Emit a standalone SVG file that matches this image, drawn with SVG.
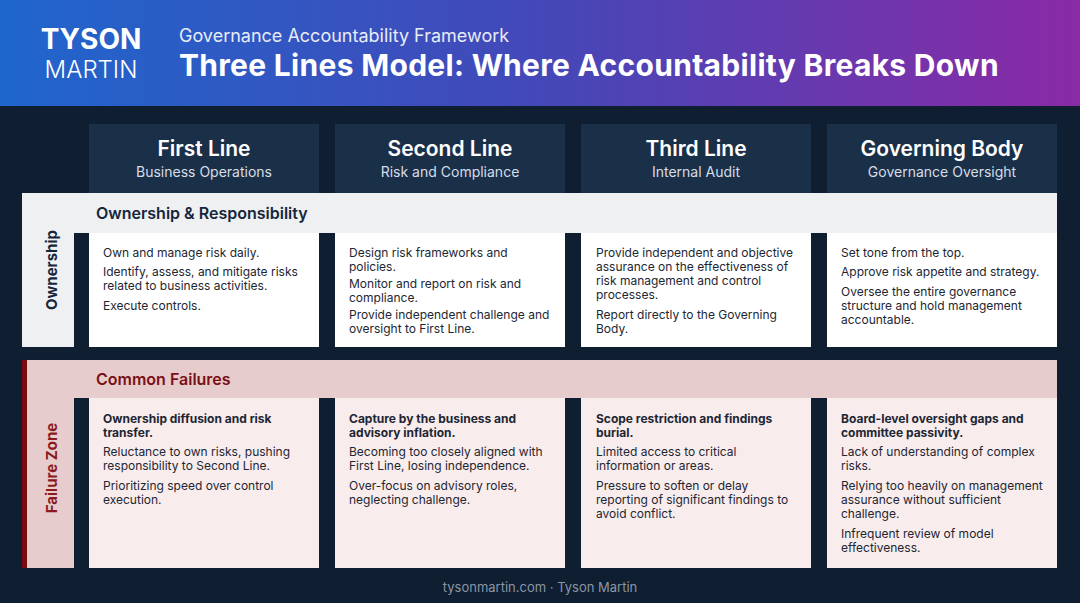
<svg xmlns="http://www.w3.org/2000/svg" width="1080" height="603" viewBox="0 0 1080 603">
<defs>
<linearGradient id="hg" x1="0" y1="0" x2="1" y2="0"><stop offset="0" stop-color="#1f66cc"/><stop offset="0.5" stop-color="#4448b8"/><stop offset="1" stop-color="#8a2aa6"/></linearGradient>
<style>
text{font-family:Inter,"Noto Sans",sans-serif}
.ch{fill:#1a3049}
.t1{font-size:21px;font-weight:600;fill:#fff;text-anchor:middle}
.t2{font-size:14px;fill:#d6dde6;text-anchor:middle}
.ct{font-size:12px;fill:#1d2633}
.cb{font-weight:700}
.oc{fill:#ffffff}
.fc{fill:#f9ecec}
</style>
</defs>
<rect width="1080" height="603" fill="#0f1e31"/>
<rect width="1080" height="106" fill="url(#hg)"/>
<g id="logo"><text x="91" y="49" font-size="28" font-weight="700" fill="#fff" text-anchor="middle">TYSON</text><text x="91" y="78" font-size="24" font-weight="300" fill="#fff" text-anchor="middle">MARTIN</text></g>
<text x="179" y="42" font-size="18" fill="#e8ecf6">Governance Accountability Framework</text>
<text x="179" y="76" font-size="30" font-weight="700" fill="#fff" letter-spacing="0.3">Three Lines Model: Where Accountability Breaks Down</text>
<g id="headers">
<rect class="ch" x="89" y="124" width="230" height="70"/><text class="t1" x="204" y="156">First Line</text><text class="t2" x="204" y="177">Business Operations</text>
<rect class="ch" x="335" y="124" width="230" height="70"/><text class="t1" x="450" y="156">Second Line</text><text class="t2" x="450" y="177">Risk and Compliance</text>
<rect class="ch" x="581" y="124" width="230" height="70"/><text class="t1" x="696" y="156">Third Line</text><text class="t2" x="696" y="177">Internal Audit</text>
<rect class="ch" x="827" y="124" width="230" height="70"/><text class="t1" x="942" y="156">Governing Body</text><text class="t2" x="942" y="177">Governance Oversight</text>
</g>
<g id="ownership">
<rect x="22" y="193" width="1035" height="40" fill="#eef0f2"/>
<rect x="22" y="193" width="52" height="154" fill="#eef0f2"/>
<text x="96" y="219" font-size="16" font-weight="600" fill="#16263a">Ownership &amp; Responsibility</text>
<text transform="translate(57,270) rotate(-90)" font-size="15" font-weight="700" fill="#16263a" text-anchor="middle">Ownership</text>
<rect class="oc" x="89" y="233" width="230" height="114"/>
<rect class="oc" x="335" y="233" width="230" height="114"/>
<rect class="oc" x="581" y="233" width="230" height="114"/>
<rect class="oc" x="827" y="233" width="230" height="114"/>
<text class="ct"><tspan x="103" y="257">Own and manage risk daily.</tspan><tspan x="103" y="276">Identify, assess, and mitigate risks</tspan><tspan x="103" y="290">related to business activities.</tspan><tspan x="103" y="310">Execute controls.</tspan></text>
<text class="ct"><tspan x="349" y="257">Design risk frameworks and</tspan><tspan x="349" y="271">policies.</tspan><tspan x="349" y="288">Monitor and report on risk and</tspan><tspan x="349" y="302">compliance.</tspan><tspan x="349" y="319">Provide independent challenge and</tspan><tspan x="349" y="333">oversight to First Line.</tspan></text>
<text class="ct"><tspan x="596" y="257">Provide independent and objective</tspan><tspan x="596" y="271">assurance on the effectiveness of</tspan><tspan x="596" y="285">risk management and control</tspan><tspan x="596" y="299">processes.</tspan><tspan x="596" y="319">Report directly to the Governing</tspan><tspan x="596" y="333">Body.</tspan></text>
<text class="ct"><tspan x="841" y="257">Set tone from the top.</tspan><tspan x="841" y="276">Approve risk appetite and strategy.</tspan><tspan x="841" y="296">Oversee the entire governance</tspan><tspan x="841" y="310">structure and hold management</tspan><tspan x="841" y="324">accountable.</tspan></text>
</g>
<g id="failures">
<rect x="22" y="360" width="1035" height="38" fill="#e7cccd"/>
<rect x="22" y="360" width="52" height="208" fill="#e7cccd"/>
<rect x="22" y="360" width="5" height="208" fill="#7a0c10"/>
<text x="96" y="385" font-size="16" font-weight="600" fill="#7a1016">Common Failures</text>
<text transform="translate(57,468) rotate(-90)" font-size="15" font-weight="700" fill="#8a1a1e" text-anchor="middle">Failure Zone</text>
<rect class="fc" x="89" y="398" width="230" height="170"/>
<rect class="fc" x="335" y="398" width="230" height="170"/>
<rect class="fc" x="581" y="398" width="230" height="170"/>
<rect class="fc" x="827" y="398" width="230" height="170"/>
<text class="ct"><tspan class="cb" x="103" y="423">Ownership diffusion and risk</tspan><tspan class="cb" x="103" y="437">transfer.</tspan><tspan x="103" y="456">Reluctance to own risks, pushing</tspan><tspan x="103" y="470">responsibility to Second Line.</tspan><tspan x="103" y="490">Prioritizing speed over control</tspan><tspan x="103" y="504">execution.</tspan></text>
<text class="ct"><tspan class="cb" x="349" y="423">Capture by the business and</tspan><tspan class="cb" x="349" y="437">advisory inflation.</tspan><tspan x="349" y="456">Becoming too closely aligned with</tspan><tspan x="349" y="470">First Line, losing independence.</tspan><tspan x="349" y="490">Over-focus on advisory roles,</tspan><tspan x="349" y="504">neglecting challenge.</tspan></text>
<text class="ct"><tspan class="cb" x="596" y="423">Scope restriction and findings</tspan><tspan class="cb" x="596" y="437">burial.</tspan><tspan x="596" y="456">Limited access to critical</tspan><tspan x="596" y="470">information or areas.</tspan><tspan x="596" y="490">Pressure to soften or delay</tspan><tspan x="596" y="504">reporting of significant findings to</tspan><tspan x="596" y="518">avoid conflict.</tspan></text>
<text class="ct"><tspan class="cb" x="841" y="423">Board-level oversight gaps and</tspan><tspan class="cb" x="841" y="437">committee passivity.</tspan><tspan x="841" y="456">Lack of understanding of complex</tspan><tspan x="841" y="470">risks.</tspan><tspan x="841" y="490">Relying too heavily on management</tspan><tspan x="841" y="504">assurance without sufficient</tspan><tspan x="841" y="518">challenge.</tspan><tspan x="841" y="538">Infrequent review of model</tspan><tspan x="841" y="552">effectiveness.</tspan></text>
</g>
<text x="540" y="592" font-size="13" fill="#8a96a6" text-anchor="middle">tysonmartin.com · Tyson Martin</text>
</svg>
